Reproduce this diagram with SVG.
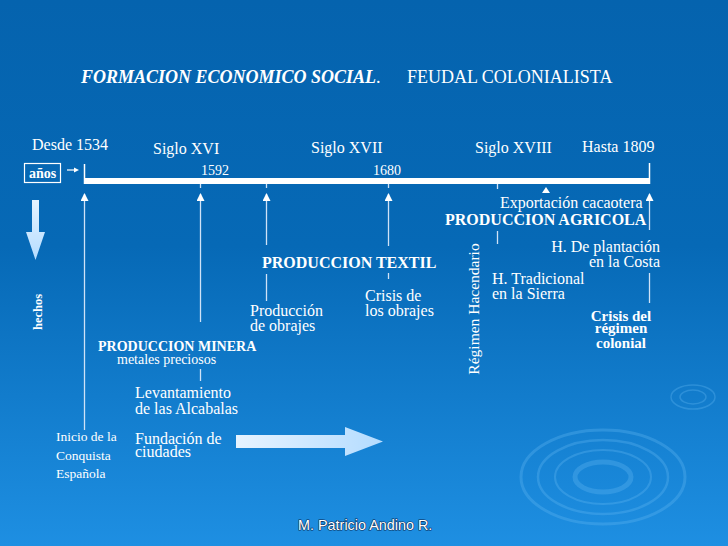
<svg xmlns="http://www.w3.org/2000/svg" width="728" height="546" viewBox="0 0 728 546">
<defs>
<linearGradient id="bg" x1="0" y1="0" x2="0" y2="1">
<stop offset="0" stop-color="#0563ae"/>
<stop offset="0.45" stop-color="#0669b6"/>
<stop offset="1" stop-color="#1e8fe2"/>
</linearGradient>
<linearGradient id="arr" x1="0" y1="0" x2="1" y2="0">
<stop offset="0" stop-color="#e6f3ff"/>
<stop offset="1" stop-color="#b4dcff"/>
</linearGradient>
<linearGradient id="arrv" x1="0" y1="0" x2="0" y2="1">
<stop offset="0" stop-color="#e6f3ff"/>
<stop offset="1" stop-color="#b4dcff"/>
</linearGradient>
<marker id="ah" viewBox="0 0 8 8" refX="7" refY="4" markerWidth="8" markerHeight="8" markerUnits="userSpaceOnUse" orient="auto">
<path d="M0,0 L8,4 L0,8 Z" fill="#ffffff"/>
</marker>
<style>
text{font-family:"Liberation Serif","Times New Roman",serif;fill:#ffffff}
.t16{font-size:16px}
.b{font-weight:bold}
.ln{stroke:#cfe2f7;stroke-width:1.3;fill:none}
.rp{fill:none;stroke:#5fb4f2;stroke-opacity:0.35}
</style>
</defs>
<rect width="728" height="546" fill="url(#bg)"/>
<g id="ripples">
<ellipse class="rp" cx="603" cy="477" rx="82" ry="47" stroke-width="3"/>
<ellipse class="rp" cx="603" cy="477" rx="65" ry="37" stroke-width="2.5"/>
<ellipse class="rp" cx="603" cy="477" rx="48" ry="27" stroke-width="2"/>
<ellipse class="rp" cx="603" cy="477" rx="28" ry="15" stroke-width="5" stroke-opacity="0.25"/>
<ellipse class="rp" cx="693" cy="397" rx="22" ry="12" stroke-width="1.5"/>
<ellipse class="rp" cx="693" cy="397" rx="13" ry="7" stroke-width="1.5"/>
</g>
<g id="title">
<text x="81" y="83" font-size="18" class="b" font-style="italic">FORMACION ECONOMICO SOCIAL<tspan font-weight="normal" font-style="normal">.</tspan></text>
<text x="407" y="83" font-size="18">FEUDAL COLONIALISTA</text>
</g>
<g id="timeline">
<rect x="84" y="178" width="566" height="6" fill="#ffffff"/>
<line x1="84.5" y1="164" x2="84.5" y2="184" stroke="#ffffff" stroke-width="1.5"/>
<line x1="649.5" y1="163" x2="649.5" y2="184" stroke="#ffffff" stroke-width="1.5"/>
<rect x="24.5" y="163.5" width="36" height="19" fill="none" stroke="#ffffff" stroke-width="1.2"/>
<text x="42.5" y="177.5" font-size="14" class="b" text-anchor="middle">años</text>
<line x1="67" y1="170" x2="75" y2="170" stroke="#ffffff" stroke-width="1.2"/>
<path d="M74,167.5 L79,170 L74,172.5 Z" fill="#ffffff"/>
<text x="32" y="150" class="t16">Desde 1534</text>
<text x="153" y="154" class="t16">Siglo XVI</text>
<text x="311" y="153" class="t16">Siglo XVII</text>
<text x="475" y="153" class="t16">Siglo XVIII</text>
<text x="582" y="152" class="t16">Hasta 1809</text>
<text x="201" y="175" font-size="14">1592</text>
<text x="373" y="175" font-size="14">1680</text>
</g>
<g id="connectors">
<line class="ln" x1="84.5" y1="430" x2="84.5" y2="194" marker-end="url(#ah)"/>
<line class="ln" x1="200.5" y1="322" x2="200.5" y2="194" marker-end="url(#ah)"/>
<line class="ln" x1="266.5" y1="245" x2="266.5" y2="194" marker-end="url(#ah)"/>
<line class="ln" x1="388.5" y1="246" x2="388.5" y2="194" marker-end="url(#ah)"/>
<line class="ln" x1="649.5" y1="230" x2="649.5" y2="194" marker-end="url(#ah)"/>
<path d="M542,193 L546,187 L550,193 Z" fill="#ffffff"/>
<line class="ln" x1="200.5" y1="184" x2="200.5" y2="188"/>
<line class="ln" x1="266.5" y1="184" x2="266.5" y2="188"/>
<line class="ln" x1="388.5" y1="184" x2="388.5" y2="188"/>
<line class="ln" x1="497.5" y1="184" x2="497.5" y2="189"/>
<line class="ln" x1="497.5" y1="231" x2="497.5" y2="244"/>
<line class="ln" x1="266.5" y1="274" x2="266.5" y2="301"/>
<line class="ln" x1="388.5" y1="273" x2="388.5" y2="279"/>
<line class="ln" x1="649.5" y1="273" x2="649.5" y2="303"/>
<line class="ln" x1="200.5" y1="369" x2="200.5" y2="381"/>
</g>
<g id="hechos">
<path d="M32,200 H39 V232 H45 L35.5,260 L26,232 H32 Z" fill="url(#arrv)"/>
<text x="0" y="0" font-size="12.5" class="b" text-anchor="middle" transform="translate(42,312) rotate(-90)">hechos</text>
</g>
<g id="agricola">
<text x="500" y="208" class="t16">Exportación cacaotera</text>
<text x="445" y="225" class="t16 b">PRODUCCION AGRICOLA</text>
<text x="660" y="252" class="t16" text-anchor="end">H. De plantación</text>
<text x="660" y="267" class="t16" text-anchor="end">en la Costa</text>
<text x="492" y="284" class="t16">H. Tradicional</text>
<text x="492" y="299" class="t16">en la Sierra</text>
<text x="621" y="321" font-size="15" class="b" text-anchor="middle">Crisis del</text>
<text x="621" y="333" font-size="15" class="b" text-anchor="middle">régimen</text>
<text x="621" y="348" font-size="15" class="b" text-anchor="middle">colonial</text>
<text x="0" y="0" font-size="15.5" text-anchor="middle" transform="translate(479,309) rotate(-90)">Régimen Hacendario</text>
</g>
<g id="textil">
<text x="262" y="268" class="t16 b">PRODUCCION TEXTIL</text>
<text x="250" y="316" class="t16">Producción</text>
<text x="250" y="331" class="t16">de obrajes</text>
<text x="365" y="301" class="t16">Crisis de</text>
<text x="365" y="316" class="t16">los obrajes</text>
</g>
<g id="minera">
<text x="98" y="351" font-size="14" class="b">PRODUCCION MINERA</text>
<text x="117" y="364" font-size="14">metales preciosos</text>
<text x="135" y="398" class="t16">Levantamiento</text>
<text x="135" y="414" class="t16">de las Alcabalas</text>
<text x="135" y="444" class="t16">Fundación de</text>
<text x="135" y="457" class="t16">ciudades</text>
<path d="M236,435 H345 V427 L383,441.5 L345,456 V448 H236 Z" fill="url(#arr)"/>
</g>
<g id="conquista">
<text x="56" y="441" font-size="13.5">Inicio de la</text>
<text x="56" y="460" font-size="13.5">Conquista</text>
<text x="56" y="478" font-size="13.5">Española</text>
</g>
<g id="footer">
<text x="298" y="530" font-size="14.4" style="font-family:'Liberation Sans',Arial,sans-serif;fill:#ffffff;stroke:#0a2a55;stroke-width:1.2;paint-order:stroke">M. Patricio Andino R.</text>
</g>
</svg>
